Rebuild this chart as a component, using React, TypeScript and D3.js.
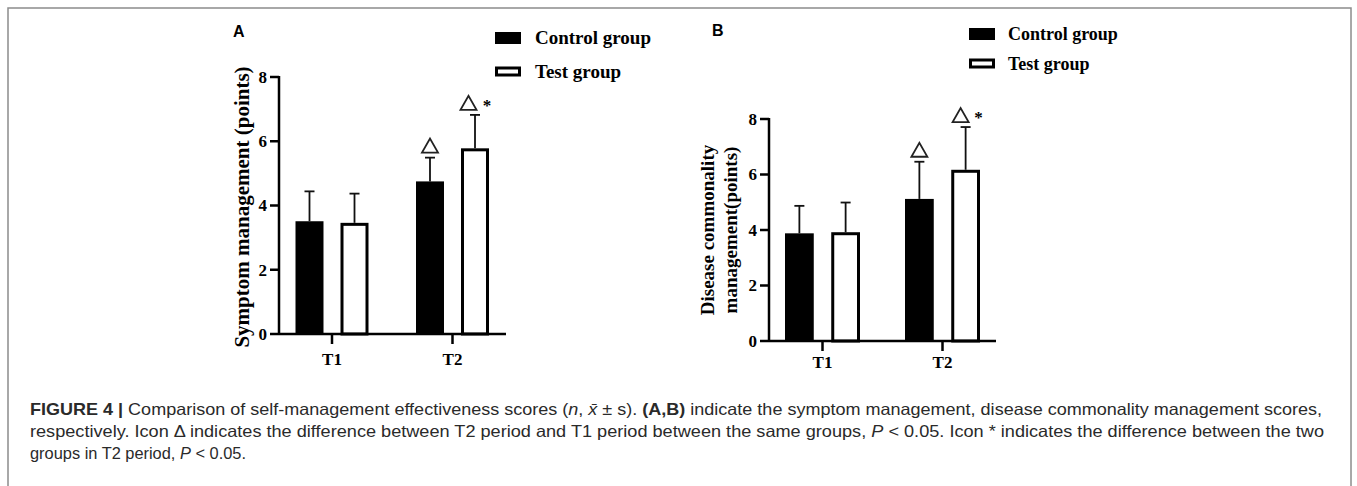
import React from "react";
import * as d3 from "d3";

// ---------- data ----------
const categories = ["T1", "T2"];
const groups = ["Control group", "Test group"];
const yTicks = [0, 2, 4, 6, 8];

const symptomControlMean = [3.51, 4.75];
const symptomControlSD = [0.93, 0.74];
const symptomTestMean = [3.46, 5.78];
const symptomTestSD = [0.91, 1.04];

const diseaseControlMean = [3.88, 5.12];
const diseaseControlSD = [0.99, 1.34];
const diseaseTestMean = [3.92, 6.17];
const diseaseTestSD = [1.07, 1.54];

// significance marks: [category, group]
const deltaMarks = [["T2", "Control group"], ["T2", "Test group"]];
const starMarks = [["T2", "Test group"]];

const SERIF = "'Liberation Serif', 'Times New Roman', serif";
const SANS = "'Liberation Sans', Arial, sans-serif";

type PanelProps = {
  letter: string;
  letterX: number;
  letterY: number;
  yTop: number;
  yBase: number;
  axisX: number;
  xAxisStart: number;
  xAxisEnd: number;
  cat0: number;
  cat1: number;
  groupSpan: number;
  control: number[];
  controlSD: number[];
  test: number[];
  testSD: number[];
  titleLines: string[];
  titleX: number[];
  titleY: number;
  titleSize: number;
  legendX: number;
  legendTextX: number;
  legendY: number[];
  legendSize: number;
  labelBase: number;
  starDx: number;
  triDx: number;
};

function Panel(p: PanelProps) {
  const y = d3.scaleLinear().domain([0, 8]).range([p.yBase, p.yTop]);
  const x = d3.scalePoint<string>().domain(categories).range([p.cat0, p.cat1]);
  const inner = d3
    .scaleBand<string>()
    .domain(groups)
    .range([-p.groupSpan / 2, p.groupSpan / 2])
    .paddingInner(0.378)
    .paddingOuter(0);
  const bw = inner.bandwidth();
  const series = [
    { g: groups[0], mean: p.control, sd: p.controlSD },
    { g: groups[1], mean: p.test, sd: p.testSD },
  ];
  const errTop = (cat: string, g: string) => {
    const i = categories.indexOf(cat);
    const s = series.find((d) => d.g === g)!;
    return y(s.mean[i] + s.sd[i]);
  };
  const barCenter = (cat: string, g: string) => (x(cat) as number) + (inner(g) as number) + bw / 2;

  return (
    <g>
      <text x={p.letterX} y={p.letterY} fontFamily={SANS} fontWeight="bold" fontSize={16}>
        {p.letter}
      </text>

      {/* legend */}
      {groups.map((g, i) => (
        <g key={g}>
          {i === 0 ? (
            <rect x={p.legendX} y={p.legendY[i] - 12} width={26} height={12} fill="#000" />
          ) : (
            <rect
              x={p.legendX + 1.5}
              y={p.legendY[i] - 10}
              width={23}
              height={7}
              fill="#fff"
              stroke="#000"
              strokeWidth={3}
            />
          )}
          <text
            x={p.legendTextX}
            y={p.legendY[i]}
            fontFamily={SERIF}
            fontWeight="bold"
            fontSize={p.legendSize}
          >
            {g}
          </text>
        </g>
      ))}

      {/* y title */}
      {p.titleLines.map((t, i) => (
        <text
          key={t}
          transform={`translate(${p.titleX[i]},${p.titleY}) rotate(-90)`}
          textAnchor="middle"
          fontFamily={SERIF}
          fontWeight="bold"
          fontSize={p.titleSize}
        >
          {t}
        </text>
      ))}

      {/* bars */}
      {series.map((s) =>
        categories.map((c, i) => {
          const x0 = (x(c) as number) + (inner(s.g) as number);
          const top = y(s.mean[i]);
          const isTest = s.g === groups[1];
          return isTest ? (
            <rect
              key={s.g + c}
              x={x0 + 1.5}
              y={top + 1.5}
              width={bw - 3}
              height={p.yBase - top - 1.5}
              fill="#fff"
              stroke="#000"
              strokeWidth={3}
            />
          ) : (
            <rect key={s.g + c} x={x0} y={top} width={bw} height={p.yBase - top} fill="#000" />
          );
        })
      )}

      {/* error bars */}
      {series.map((s) =>
        categories.map((c, i) => {
          const cx = barCenter(c, s.g);
          const t = y(s.mean[i] + s.sd[i]);
          const b = y(s.mean[i]);
          return (
            <g key={"e" + s.g + c} stroke="#111" strokeWidth={1.8}>
              <line x1={cx} x2={cx} y1={b} y2={t} />
              <line x1={cx - 5} x2={cx + 5} y1={t} y2={t} />
            </g>
          );
        })
      )}

      {/* delta marks */}
      {deltaMarks.map(([c, g]) => {
        const cx = barCenter(c, g) + (g === groups[1] ? p.triDx : 0);
        const b = errTop(c, g) - 5;
        const h = 14;
        const w = 16;
        return (
          <path
            key={"d" + c + g}
            d={`M${cx - w / 2},${b} L${cx + w / 2},${b} L${cx},${b - h} Z`}
            fill="none"
            stroke="#222"
            strokeWidth={1.8}
            strokeLinejoin="miter"
          />
        );
      })}
      {starMarks.map(([c, g]) => {
        const cx = barCenter(c, g) + p.starDx;
        const b = errTop(c, g) - 5;
        return (
          <text
            key={"s" + c + g}
            x={cx}
            y={b + 1}
            textAnchor="middle"
            fontFamily={SERIF}
            fontWeight="bold"
            fontSize={17}
          >
            *
          </text>
        );
      })}

      {/* axes */}
      <g stroke="#000" strokeWidth={2.5} fill="none">
        <line x1={p.axisX} x2={p.axisX} y1={p.yTop - 1} y2={p.yBase} />
        <line x1={p.xAxisStart} x2={p.xAxisEnd} y1={p.yBase} y2={p.yBase} />
        {yTicks.slice(1).map((t) => (
          <line key={t} x1={p.axisX - 9} x2={p.axisX} y1={y(t)} y2={y(t)} />
        ))}
        {categories.map((c) => (
          <line key={c} x1={x(c)} x2={x(c)} y1={p.yBase} y2={p.yBase + 10} />
        ))}
      </g>
      {yTicks.map((t) => (
        <text
          key={t}
          x={p.axisX - 12}
          y={y(t)}
          dy="0.34em"
          textAnchor="end"
          fontFamily={SERIF}
          fontWeight="bold"
          fontSize={17}
        >
          {t}
        </text>
      ))}
      {categories.map((c) => (
        <text
          key={c}
          x={x(c)}
          y={p.labelBase}
          textAnchor="middle"
          fontFamily={SERIF}
          fontWeight="bold"
          fontSize={17}
        >
          {c}
        </text>
      ))}
    </g>
  );
}

export default function App() {
  const capX = 30;
  const capW = 1292;
  const capW2 = 1294;
  return (
    <svg
      width={1357}
      height={486}
      style={{ position: "absolute", left: 0, top: 0, background: "#fff" }}
    >
      <rect x={0} y={0} width={1357} height={486} fill="#fff" />
      <rect x={8} y={8} width={1343} height={520} fill="none" stroke="#8c8c8c" strokeWidth={1.5} />

      <Panel
        letter="A"
        letterX={233}
        letterY={37}
        yTop={77}
        yBase={334}
        axisX={279}
        xAxisStart={270}
        xAxisEnd={506}
        cat0={332}
        cat1={452.5}
        groupSpan={73}
        control={symptomControlMean}
        controlSD={symptomControlSD}
        test={symptomTestMean}
        testSD={symptomTestSD}
        titleLines={["Symptom management (points)"]}
        titleX={[249]}
        titleY={207}
        titleSize={21}
        legendX={495}
        legendTextX={535}
        legendY={[44, 78]}
        legendSize={19}
        labelBase={365}
        starDx={12}
        triDx={-6.5}
      />
      <Panel
        letter="B"
        letterX={712}
        letterY={36}
        yTop={119}
        yBase={341}
        axisX={769}
        xAxisStart={760}
        xAxisEnd={996}
        cat0={822.5}
        cat1={942.5}
        groupSpan={75}
        control={diseaseControlMean}
        controlSD={diseaseControlSD}
        test={diseaseTestMean}
        testSD={diseaseTestSD}
        titleLines={["Disease commonality", "management(points)"]}
        titleX={[714, 737]}
        titleY={230}
        titleSize={19}
        legendX={969}
        legendTextX={1008}
        legendY={[40, 70]}
        legendSize={18}
        labelBase={368}
        starDx={13}
        triDx={-5}
      />

      {/* caption */}
      <g fontFamily={SANS} fontSize={16.5} fill="#2a2a2a">
        <text x={capX} y={415} textLength={capW} lengthAdjust="spacingAndGlyphs">
          <tspan fontWeight="bold">FIGURE 4 |</tspan> Comparison of self-management effectiveness scores (
          <tspan fontStyle="italic">n</tspan>, <tspan fontStyle="italic">x̄</tspan> ± s).{" "}
          <tspan fontWeight="bold">(A,B)</tspan> indicate the symptom management, disease commonality management scores,
        </text>
        <text x={capX} y={437} textLength={capW2} lengthAdjust="spacingAndGlyphs">
          respectively. Icon Δ indicates the difference between T2 period and T1 period between the same groups,{" "}
          <tspan fontStyle="italic">P</tspan> &lt; 0.05. Icon * indicates the difference between the two
        </text>
        <text x={capX} y={459} textLength={216} lengthAdjust="spacingAndGlyphs">
          groups in T2 period, <tspan fontStyle="italic">P</tspan> &lt; 0.05.
        </text>
      </g>
    </svg>
  );
}
